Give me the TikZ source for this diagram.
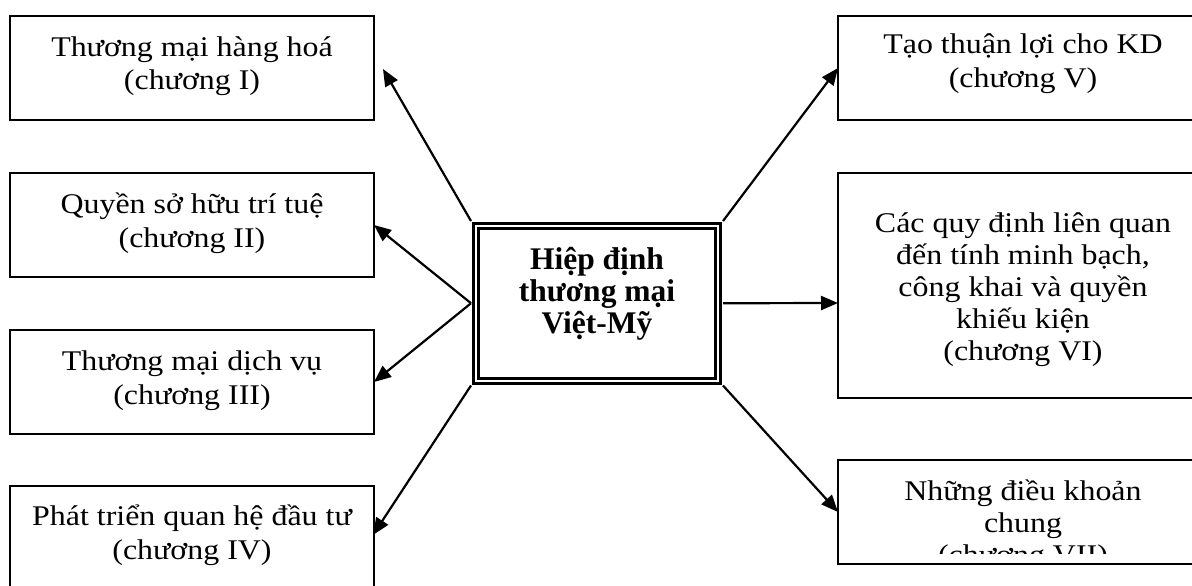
\documentclass[tikz,border=0pt]{standalone}
\usepackage{fontspec}
\setmainfont{Liberation Serif}
\newfontfamily\widefont[FakeStretch=1.12]{Liberation Serif}
\usetikzlibrary{arrows.meta,calc}

\tikzset{
  chapbox/.style={draw, line width=2.2pt, rectangle, inner sep=0pt, outer sep=0pt},
  chaptext/.style={align=center, inner sep=0pt, anchor=base,
    font=\widefont\fontsize{28.5}{34}\selectfont},
  chaptextr/.style={chaptext, font=\widefont\fontsize{28.5}{32}\selectfont},
  hubbox/.style={draw, rectangle, line width=3pt, double, double distance=2pt,
    inner sep=0pt, outer sep=5pt, minimum width=242pt, minimum height=154.5pt},
  hubtext/.style={align=center, inner sep=0pt, anchor=base,
    font=\fontsize{31.5}{32}\selectfont\bfseries},
  link/.style={line width=2.2pt, -{Triangle[length=17pt, width=14pt]}},
}

\begin{document}
\begin{tikzpicture}[x=1pt, y=-1pt]
\clip (0,0) rectangle (1192,586);

% left column of chapter boxes
\node[chapbox, minimum width=364pt, minimum height=104pt] (b1) at (192,68) {};
\node[chapbox, minimum width=364pt, minimum height=104pt] (b2) at (192,225) {};
\node[chapbox, minimum width=364pt, minimum height=104pt] (b3) at (192,382) {};
\node[chapbox, minimum width=364pt, minimum height=106pt] (b4) at (192,539) {};

% texts are anchored on the baseline of their last line
\node[chaptext] (b1t) at ($(b1.north)+(0,74)$) {Thương mại hàng hoá\\(chương I)};
\node[chaptext] (b2t) at ($(b2.north)+(0,74)$) {Quyền sở hữu trí tuệ\\(chương II)};
\node[chaptext] (b3t) at ($(b3.north)+(0,74)$) {Thương mại dịch vụ\\(chương III)};
\node[chaptext] (b4t) at ($(b4.north)+(0,73)$) {Phát triển quan hệ đầu tư\\(chương IV)};

% right column of chapter boxes (running past the right edge)
\node[chapbox, minimum width=370pt, minimum height=104pt] (r1) at (1023,68) {};
\node[chapbox, minimum width=370pt, minimum height=225pt] (r2) at (1023,285.5) {};
\node[chapbox, minimum width=370pt, minimum height=104pt] (r3) at (1023,512) {};

\node[chaptext] (r1t) at ($(r1.north)+(0,72)$) {Tạo thuận lợi cho KD\\(chương V)};
\node[chaptextr] (r2t) at ($(r2.north)+(0,187)$) {Các quy định liên quan\\đến tính minh bạch,\\công khai và quyền\\khiếu kiện\\(chương VI)};
\begin{scope}
  \clip (840,462) rectangle (1200,553);
  \node[chaptextr] (r3t) at ($(r3.north)+(0,104)$) {Những điều khoản\\chung\\(chương VII)};
\end{scope}

% central agreement box
\node[hubbox] (hub) at (597,303.25) {};
\node[hubtext] (hubt) at ($(hub.center)+(0,30)$) {Hiệp định\\thương mại\\Việt-Mỹ};

% arrow ends that do not sit on a box anchor
\coordinate (e1) at (383,69);
\coordinate (e4) at (373,535);
\coordinate (e6) at (838,303);

% connectors
\draw[link] (hub.north west) -- (e1);
\draw[link] (hub.west) -- (b2.east);
\draw[link] (hub.west) -- (b3.east);
\draw[link] (hub.south west) -- (e4);
\draw[link] (hub.north east) -- (r1.west);
\draw[link] (hub.east) -- (e6);
\draw[link] (hub.south east) -- (r3.west);
\end{tikzpicture}
\end{document}
